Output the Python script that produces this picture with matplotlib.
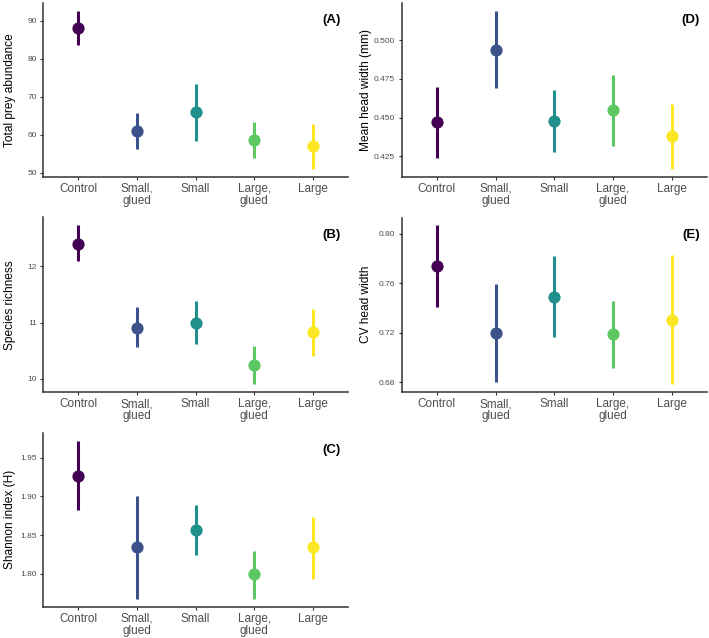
import numpy as np
import matplotlib
matplotlib.use("Agg")
import matplotlib.pyplot as plt

plt.rcParams['font.family'] = ['Liberation Sans', 'DejaVu Sans']

treatments = ["Control", "Small,\nglued", "Small", "Large,\nglued", "Large"]
colors = ["#440154", "#3B528B", "#21908C", "#5DC863", "#FDE725"]

# panel A - total prey abundance
abund_mean = [88.1, 60.9, 65.9, 58.6, 57.0]
abund_lo = [83.5, 56.1, 58.4, 53.9, 51.0]
abund_hi = [92.6, 65.7, 73.3, 63.2, 62.7]

# panel B - species richness
rich_mean = [12.40, 10.91, 11.00, 10.25, 10.83]
rich_lo = [12.09, 10.56, 10.61, 9.905, 10.41]
rich_hi = [12.73, 11.27, 11.39, 10.59, 11.25]

# panel C - shannon index
shan_mean = [1.927, 1.835, 1.857, 1.800, 1.835]
shan_lo = [1.883, 1.768, 1.824, 1.768, 1.794]
shan_hi = [1.972, 1.900, 1.889, 1.830, 1.874]

# panel D - mean head width
hw_mean = [0.4468, 0.4938, 0.4479, 0.4547, 0.4379]
hw_lo = [0.4239, 0.4688, 0.4280, 0.4319, 0.4169]
hw_hi = [0.4697, 0.5188, 0.4679, 0.4776, 0.4586]

# panel E - CV head width
cv_mean = [0.7741, 0.7200, 0.7492, 0.7187, 0.7305]
cv_lo = [0.7409, 0.6800, 0.7162, 0.6917, 0.6784]
cv_hi = [0.8067, 0.7595, 0.7822, 0.7457, 0.7827]

W, H = 709, 638
fig = plt.figure(figsize=(W / 100, H / 100), dpi=100)


def px_axes(left, right, top, bottom):
    return fig.add_axes([left / W, (H - bottom) / H, (right - left) / W, (bottom - top) / H])


def panel(ax, mean, lo, hi, ylabel, tag, yticks, fmt, label_x):
    x = np.arange(1, len(treatments) + 1)
    for i in range(len(x)):
        ax.vlines(x[i], lo[i], hi[i], color=colors[i], lw=2.2, zorder=2)
        ax.plot(x[i], mean[i], 'o', color=colors[i], ms=8.8, mec='none', zorder=3)
    # ggplot style expansion
    ymin, ymax = min(lo), max(hi)
    pad = (ymax - ymin) * 0.05
    ax.set_ylim(ymin - pad, ymax + pad)
    ax.set_xlim(0.4, 5.6)
    ax.set_xticks(x)
    ax.set_xticklabels(treatments, fontsize=8.5, color='#4D4D4D', linespacing=1.0)
    ax.set_yticks(yticks)
    ax.set_yticklabels([fmt.format(v) for v in yticks], fontsize=6, color='#4D4D4D')
    ax.set_ylabel(ylabel, fontsize=8.6, color='black')
    ax.yaxis.set_label_coords(label_x, 0.5)
    for s in ['top', 'right']:
        ax.spines[s].set_visible(False)
    for s in ['left', 'bottom']:
        ax.spines[s].set_linewidth(1.1)
        ax.spines[s].set_color('#333333')
    ax.tick_params(axis='both', length=2.5, width=0.8, color='#333333', pad=2)
    ax.text(0.977, 0.90, tag, transform=ax.transAxes, ha='right', va='center',
            fontsize=9.5, fontweight='bold')


axA = px_axes(43, 348, 3, 176.7)
panel(axA, abund_mean, abund_lo, abund_hi, "Total prey abundance", "(A)",
      [50, 60, 70, 80, 90], "{:.0f}", -0.09)

axB = px_axes(43, 348, 217.5, 392)
panel(axB, rich_mean, rich_lo, rich_hi, "Species richness", "(B)",
      [10, 11, 12], "{:.0f}", -0.09)

axC = px_axes(43, 348, 432.7, 606.7)
panel(axC, shan_mean, shan_lo, shan_hi, "Shannon index (H)", "(C)",
      [1.80, 1.85, 1.90, 1.95], "{:.2f}", -0.09)

axD = px_axes(401.5, 707, 3, 176.7)
panel(axD, hw_mean, hw_lo, hw_hi, "Mean head width (mm)", "(D)",
      [0.425, 0.450, 0.475, 0.500], "{:.3f}", -0.097)

axE = px_axes(401.5, 707, 217.5, 392)
panel(axE, cv_mean, cv_lo, cv_hi, "CV head width", "(E)",
      [0.68, 0.72, 0.76, 0.80], "{:.2f}", -0.097)

fig.savefig("out.png", dpi=100)
